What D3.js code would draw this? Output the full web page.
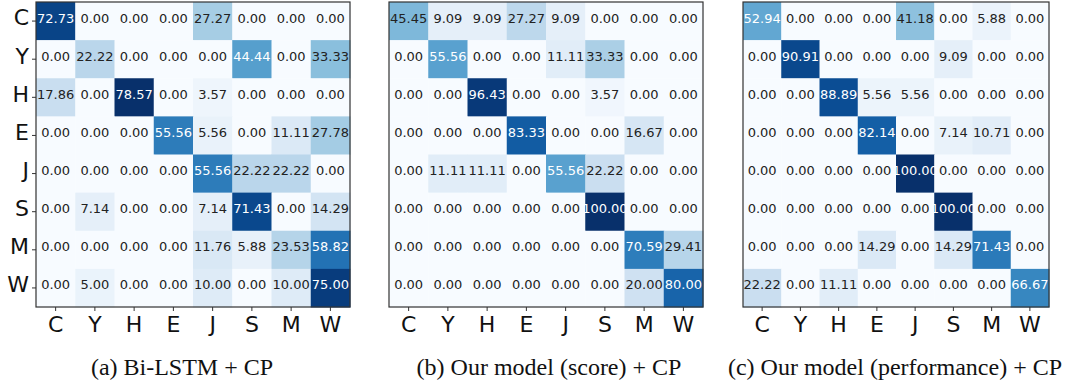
<!DOCTYPE html>
<html>
<head>
<meta charset="utf-8">
<script src="https://cdn.jsdelivr.net/npm/d3@7"></script>
<style>
  html, body { margin: 0; padding: 0; background: #fff; }
  svg { display: block; }
  .tick text { font-family: "DejaVu Sans", sans-serif; fill: #111; }
</style>
</head>
<body>
<svg id="chart" width="1067" height="385"></svg>
<script>
// Class labels (rows = true, columns = predicted)
const labels = ["C", "Y", "H", "E", "J", "S", "M", "W"];

// Confusion matrices, row-normalised percentages
const bilstmCP = [
  [72.73, 0.00, 0.00, 0.00, 27.27, 0.00, 0.00, 0.00],
  [0.00, 22.22, 0.00, 0.00, 0.00, 44.44, 0.00, 33.33],
  [17.86, 0.00, 78.57, 0.00, 3.57, 0.00, 0.00, 0.00],
  [0.00, 0.00, 0.00, 55.56, 5.56, 0.00, 11.11, 27.78],
  [0.00, 0.00, 0.00, 0.00, 55.56, 22.22, 22.22, 0.00],
  [0.00, 7.14, 0.00, 0.00, 7.14, 71.43, 0.00, 14.29],
  [0.00, 0.00, 0.00, 0.00, 11.76, 5.88, 23.53, 58.82],
  [0.00, 5.00, 0.00, 0.00, 10.00, 0.00, 10.00, 75.00]
];

const scoreCP = [
  [45.45, 9.09, 9.09, 27.27, 9.09, 0.00, 0.00, 0.00],
  [0.00, 55.56, 0.00, 0.00, 11.11, 33.33, 0.00, 0.00],
  [0.00, 0.00, 96.43, 0.00, 0.00, 3.57, 0.00, 0.00],
  [0.00, 0.00, 0.00, 83.33, 0.00, 0.00, 16.67, 0.00],
  [0.00, 11.11, 11.11, 0.00, 55.56, 22.22, 0.00, 0.00],
  [0.00, 0.00, 0.00, 0.00, 0.00, 100.00, 0.00, 0.00],
  [0.00, 0.00, 0.00, 0.00, 0.00, 0.00, 70.59, 29.41],
  [0.00, 0.00, 0.00, 0.00, 0.00, 0.00, 20.00, 80.00]
];

const performanceCP = [
  [52.94, 0.00, 0.00, 0.00, 41.18, 0.00, 5.88, 0.00],
  [0.00, 90.91, 0.00, 0.00, 0.00, 9.09, 0.00, 0.00],
  [0.00, 0.00, 88.89, 5.56, 5.56, 0.00, 0.00, 0.00],
  [0.00, 0.00, 0.00, 82.14, 0.00, 7.14, 10.71, 0.00],
  [0.00, 0.00, 0.00, 0.00, 100.00, 0.00, 0.00, 0.00],
  [0.00, 0.00, 0.00, 0.00, 0.00, 100.00, 0.00, 0.00],
  [0.00, 0.00, 0.00, 14.29, 0.00, 14.29, 71.43, 0.00],
  [22.22, 0.00, 11.11, 0.00, 0.00, 0.00, 0.00, 66.67]
];

const captions = [
  "(a) Bi-LSTM + CP",
  "(b) Our model (score) + CP",
  "(c) Our model (performance) + CP"
];

const svg = d3.select("#chart");

// Layout of the three heatmap panels
const panels = [
  { data: bilstmCP,      x0: 36,  x1: 350,  showY: true,  capX: 182 },
  { data: scoreCP,       x0: 389, x1: 703,  showY: false, capX: 549 },
  { data: performanceCP, x0: 743, x1: 1049, showY: false, capX: 895 }
];
const plotTop = 2, plotBottom = 307;

panels.forEach((p, i) => {
  const g = svg.append("g");
  const x = d3.scaleBand().domain(labels).range([p.x0, p.x1]);
  const y = d3.scaleBand().domain(labels).range([plotTop, plotBottom]);
  const vmax = d3.max(p.data.flat());
  const color = d3.scaleSequential(d3.interpolateBlues).domain([0, vmax]);

  const cells = p.data.flatMap((row, r) =>
    row.map((v, c) => ({ r: labels[r], c: labels[c], v })));

  g.selectAll("rect.cell")
    .data(cells)
    .join("rect")
    .attr("class", "cell")
    .attr("x", d => x(d.c))
    .attr("y", d => y(d.r))
    .attr("width", x.bandwidth() + 0.5)
    .attr("height", y.bandwidth() + 0.5)
    .attr("fill", d => color(d.v));

  g.selectAll("text.val")
    .data(cells)
    .join("text")
    .attr("class", "val")
    .attr("x", d => x(d.c) + x.bandwidth() / 2)
    .attr("y", d => y(d.r) + y.bandwidth() / 2 - 3)
    .attr("text-anchor", "middle")
    .attr("dominant-baseline", "central")
    .style("font-family", "'DejaVu Sans', sans-serif")
    .style("font-size", "13px")
    .attr("fill", d => d.v > vmax / 2 ? "#ffffff" : "#222222")
    .text(d => d.v.toFixed(2));

  // Frame
  g.append("rect")
    .attr("x", p.x0).attr("y", plotTop)
    .attr("width", p.x1 - p.x0).attr("height", plotBottom - plotTop)
    .attr("fill", "none")
    .attr("stroke", "#333")
    .attr("stroke-width", 1.2);

  // Bottom axis
  const xa = g.append("g")
    .attr("transform", `translate(0,${plotBottom})`)
    .call(d3.axisBottom(x).tickSize(4).tickPadding(5));
  xa.select(".domain").remove();
  xa.selectAll(".tick line").attr("stroke", "#333");
  xa.selectAll(".tick text").style("font-size", "22px");

  if (p.showY) {
    const ya = g.append("g")
      .attr("transform", `translate(${p.x0},0)`)
      .call(d3.axisLeft(y).tickSize(4).tickPadding(3));
    ya.select(".domain").remove();
    ya.selectAll(".tick line").attr("stroke", "#333");
    ya.selectAll(".tick text").style("font-size", "22px").attr("dy", "0.2em");
  }

  svg.append("text")
    .attr("x", p.capX)
    .attr("y", 375)
    .attr("text-anchor", "middle")
    .style("font-family", "'Liberation Serif', 'Times New Roman', serif")
    .style("font-size", "24px")
    .attr("fill", "#111")
    .text(captions[i]);
});
</script>
</body>
</html>
